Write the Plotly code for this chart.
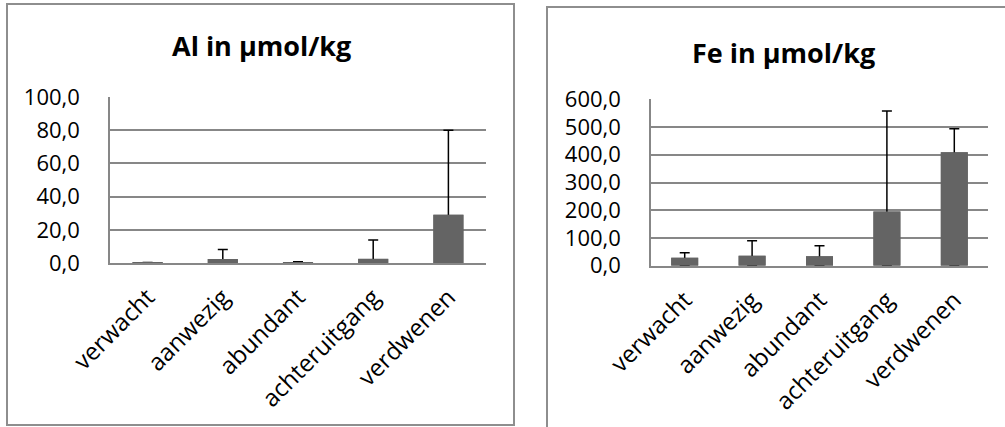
import plotly.graph_objects as go

categories = ["verwacht", "aanwezig", "abundant", "achteruitgang", "verdwenen"]
al_mean = [0.3, 2.4, 0.4, 2.5, 29.0]
al_err = [0.0, 5.8, 0.4, 11.3, 51.0]
fe_mean = [29, 36, 34, 195, 409]
fe_err = [18, 54, 38, 363, 85]

W, H = 1005, 427
BAR = "#646464"
GRID = "#878787"
BORDER = "#8e8e8e"
FONT = "Open Sans"

def px(x):
    return x / W

def py(y):
    return 1 - y / H

fig = go.Figure()

def add_chart(means, errs, xa, ya):
    # first trace carries the one-sided error bars; the lower part runs
    # down to the baseline where it is hidden by the bars and the axis line
    fig.add_trace(go.Bar(
        x=categories, y=means, xaxis=xa, yaxis=ya,
        marker=dict(color=BAR, line=dict(width=0)),
        error_y=dict(type="data", symmetric=False, array=errs,
                     arrayminus=means, color="black",
                     thickness=1.5, width=5),
        showlegend=False, hoverinfo="skip"))
    # second identical trace covers the hidden part of the error bars
    fig.add_trace(go.Bar(
        x=categories, y=means, xaxis=xa, yaxis=ya,
        marker=dict(color=BAR, line=dict(width=0)),
        showlegend=False, hoverinfo="skip"))

add_chart(al_mean, al_err, "x", "y")
add_chart(fe_mean, fe_err, "x2", "y2")

xcommon = dict(
    type="category", showgrid=False, showline=True, linecolor=GRID,
    linewidth=1.5, tickangle=-45, ticks="", ticklabelstandoff=9,
    automargin=False, layer="above traces",
    tickfont=dict(family=FONT, size=24, color="black"), fixedrange=True,
)
ycommon = dict(
    showgrid=True, gridcolor=GRID, gridwidth=1.5, showline=True,
    linecolor=GRID, linewidth=1.5, ticks="", ticklabelstandoff=24,
    tickformat=".1f", zeroline=False, automargin=False,
    tickfont=dict(family=FONT, size=22, color="black"), fixedrange=True,
)

fig.update_layout(
    template="none",
    width=W, height=H,
    margin=dict(l=0, r=0, t=0, b=0, autoexpand=False),
    paper_bgcolor="white", plot_bgcolor="white",
    separators=", ",
    barmode="overlay", bargap=0.6,
    xaxis=dict(domain=[px(110), px(486)], anchor="y", **xcommon),
    yaxis=dict(domain=[py(263), py(97)], anchor="x", range=[0, 100],
               dtick=20, **ycommon),
    xaxis2=dict(domain=[px(651), px(988)], anchor="y2", **xcommon),
    yaxis2=dict(domain=[py(265.7), py(99.3)], anchor="x2", range=[0, 600],
                dtick=100, **ycommon),
    shapes=[
        dict(type="rect", xref="paper", yref="paper",
             x0=px(7), x1=px(514), y0=py(425), y1=py(4),
             line=dict(color=BORDER, width=2), fillcolor="rgba(0,0,0,0)"),
        dict(type="rect", xref="paper", yref="paper",
             x0=px(547), x1=px(1010), y0=py(440), y1=py(7),
             line=dict(color=BORDER, width=2), fillcolor="rgba(0,0,0,0)"),
    ],
    annotations=[
        dict(text="<b>Al in µmol/kg</b>", xref="paper", yref="paper",
             x=px(261), y=py(45), xanchor="center", yanchor="middle",
             showarrow=False, font=dict(family=FONT, size=27, color="black")),
        dict(text="<b>Fe in µmol/kg</b>", xref="paper", yref="paper",
             x=px(783), y=py(52), xanchor="center", yanchor="middle",
             showarrow=False, font=dict(family=FONT, size=27, color="black")),
    ],
)

fig.write_html("out.html", config={"displayModeBar": False},
               post_script="document.body.style.margin='0';"
                           "document.body.style.overflow='hidden';")
